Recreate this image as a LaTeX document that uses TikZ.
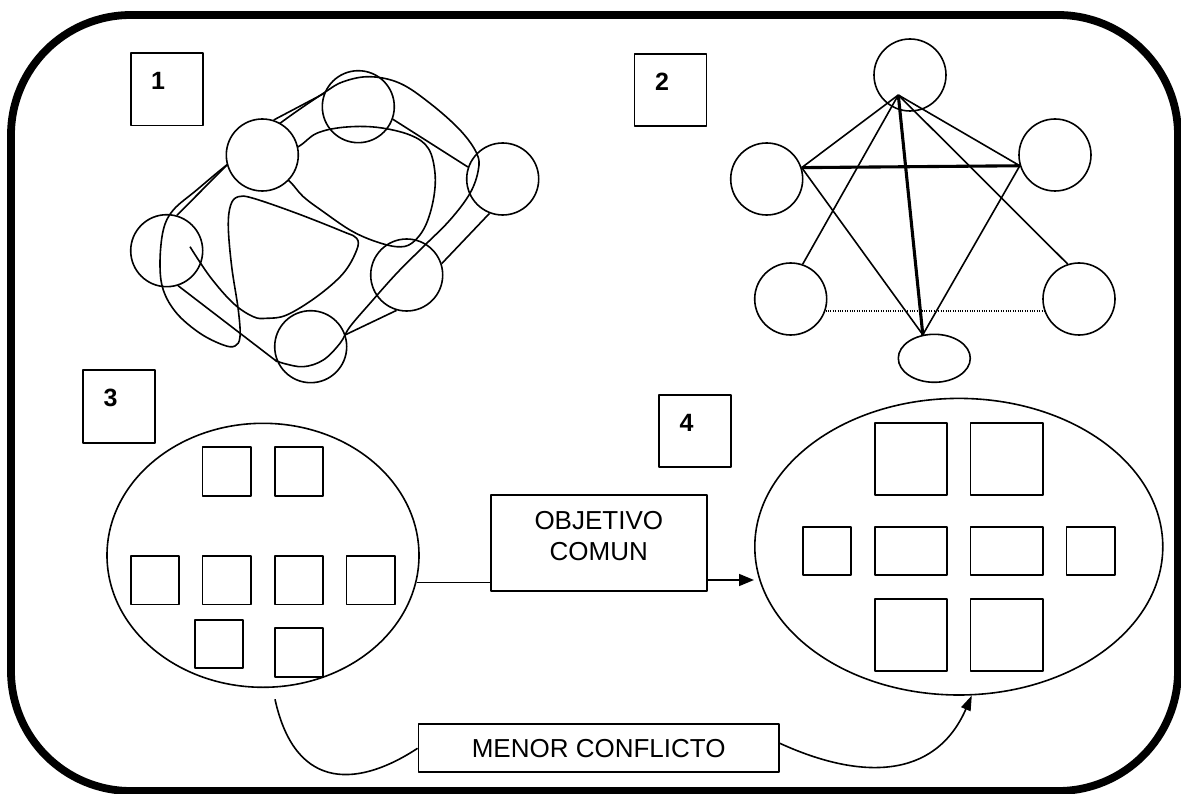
\documentclass[tikz,border=0pt]{standalone}
\usepackage{fontspec}
\setmainfont{Liberation Sans}
\usetikzlibrary{arrows.meta,shapes.geometric}
\begin{document}
\begin{tikzpicture}[x=1pt,y=-1pt,line join=round,
  ln/.style={line width=1.6pt},
  heavy/.style={line width=3.1pt},
  dotline/.style={line width=1.1pt,dash pattern=on 1pt off 1.4pt},
  circ/.style={circle,draw,line width=1.6pt,minimum size=72pt,inner sep=0pt},
  numbox/.style={rectangle,draw,line width=1.6pt,minimum width=72pt,minimum height=72.5pt,inner sep=0pt},
  numtxt/.style={font=\fontsize{25}{30}\selectfont\bfseries,inner sep=0pt},
  sq/.style={rectangle,draw,line width=1.7pt,inner sep=0pt},
  txtbox/.style={rectangle,draw,line width=1.7pt,inner sep=0pt,font=\fontsize{26}{30.8}\selectfont},
  oval/.style={ellipse,draw,line width=1.6pt,inner sep=0pt},
  tip/.style={-{Triangle[length=15pt,width=12pt]}}]
\useasboundingbox (0,0) rectangle (1181,794);
% outer frame
\draw[line width=7.8pt,rounded corners=120pt] (11,15) rectangle (1178,791);

% number boxes
\node[numbox] (b1) at (166.7,89.3) {};
\node[numtxt] (t1) at ([xshift=-8.5pt,yshift=8.5pt]b1.center) {1};
\node[numbox] (b2) at (670.5,90) {};
\node[numtxt] (t2) at ([xshift=-8.5pt,yshift=8.5pt]b2.center) {2};
\node[numbox] (b3) at (119,406.5) {};
\node[numtxt] (t3) at ([xshift=-8.5pt,yshift=8.5pt]b3.center) {3};
\node[numbox] (b4) at (695,431) {};
\node[numtxt] (t4) at ([xshift=-8.5pt,yshift=8.5pt]b4.center) {4};

% ---------- panel 1 ----------
\node[circ] (pa) at (358.3,106.7) {};
\node[circ] (pc) at (502.7,179) {};
\node[circ] (pd) at (166.7,250.7) {};
\node[circ] (pe) at (406.7,275) {};
\node[circ] (pf) at (310.7,346.7) {};
% free curves
\draw[ln] plot[smooth,tension=0.6] coordinates {
 (190,246.7) (210,276.7) (233.3,303.3) (253.3,316.7) (266.7,318.3) (286.7,315)
 (316.7,296.7) (343.3,273.3) (356.7,250) (356.7,238.3) (343.3,231.7) (296.7,213.3)
 (253.3,198.3) (238.3,196.7) (230.7,205) (228.3,226.7) (231.7,266.7) (238.3,310)
 (240,336.7) (235,346) (223.3,345) (200,333.3) (176.7,313.3) (163.3,290)
 (160,263.3) (163.3,230) (173.3,210) (196.7,190) (226.7,165) (280,123.3)
 (323.3,93.3) (343.3,81.7) (370,76.7) (400,83.3) (430,103.3) (460,130)
 (476.7,153.3) (478.3,170) (470,193.3) (450,220) (423.3,246.7) (396.7,273.3)
 (370,303.3) (350,326.7) (340,343.3) (323.3,360) (303.3,366.7) (283.3,363.3) (275,360)};
\draw[ln] plot[smooth cycle,tension=0.6] coordinates {
 (298.3,146.7) (316.7,133.3) (343.3,127.3) (376.7,127.3) (410,135) (428.3,148.3)
 (435,173.3) (433.3,200) (425,226.7) (411.7,243.3) (396.7,246.7) (373.3,240.7)
 (350,230) (323.3,211.7) (303.3,196.7) (290,181.7) (268,162)};
% straight links
\draw[ln] (pa.340) -- (pc.161);
\draw[ln] (pc.249.7) -- (pe.18.5);
\draw[ln] (pe.254) -- (pf.19);
\draw[ln] (pd.288) -- (pf.204);
\node[circ,fill=white] (pb) at (262.3,155) {};
\draw[ln] (pb.72) -- (pa.159);
\draw[ln] (pd.74) -- (pb.196);

% ---------- panel 2 ----------
\node[circ] (qa) at (910,75) {};
\node[circ] (qb) at (766.7,179) {};
\node[circ] (qc) at (1055,155) {};
\node[circ] (qd) at (790.7,299) {};
\node[circ] (qe) at (1079,299) {};
\node[oval,minimum width=72pt,minimum height=48pt] (qf) at (934.3,358.3) {};
\coordinate (qA) at (898.3,95);
\draw[ln] (qA) -- (qb.18.6);
\draw[ln] (qA) -- (qd.71.7);
\draw[ln] (qA) -- (qc.197.7);
\draw[ln] (qA) -- (qe.108.7);
\draw[heavy] (qA) -- (qf.116.5);
\draw[heavy] (qb.18.6) -- (qc.197.7);
\draw[ln] (qb.18.6) -- (qf.116.5);
\draw[ln] (qc.197.7) -- (qf.116.5);
\draw[dotline] (qd.341) -- (qe.199);

% ---------- panel 3 ----------
\node[oval,minimum width=312pt,minimum height=264pt] (e3) at (263,555.3) {};
\node[sq,minimum width=48.5pt,minimum height=48.4pt] (s31) at (226.7,471.5) {};
\node[sq,minimum width=48.5pt,minimum height=48.4pt] (s32) at (299,471.5) {};
\node[sq,minimum width=48.5pt,minimum height=48.4pt] (s33) at (155,580.2) {};
\node[sq,minimum width=48.5pt,minimum height=48.4pt] (s34) at (226.7,580.2) {};
\node[sq,minimum width=48.5pt,minimum height=48.4pt] (s35) at (299,580.2) {};
\node[sq,minimum width=48.5pt,minimum height=48.4pt] (s36) at (370.7,580.2) {};
\node[sq,minimum width=48.5pt,minimum height=48.4pt] (s37) at (219,644) {};
\node[sq,minimum width=48.5pt,minimum height=48.4pt] (s38) at (299,652.5) {};

% ---------- panel 4 ----------
\node[oval,minimum width=408pt,minimum height=296.6pt] (e4) at (958.8,546.7) {};
\node[sq,minimum width=72.5pt,minimum height=72pt] (s41) at (910.9,459.3) {};
\node[sq,minimum width=72.5pt,minimum height=72pt] (s42) at (1006.6,459.3) {};
\node[sq,minimum width=48.3pt,minimum height=48.3pt] (s43) at (827.1,550.9) {};
\node[sq,minimum width=72.5pt,minimum height=48.3pt] (s44) at (910.9,550.9) {};
\node[sq,minimum width=72.5pt,minimum height=48.3pt] (s45) at (1006.6,550.9) {};
\node[sq,minimum width=48.7pt,minimum height=48.3pt] (s46) at (1090.9,550.9) {};
\node[sq,minimum width=72.5pt,minimum height=72.3pt] (s47) at (910.9,634.9) {};
\node[sq,minimum width=72.5pt,minimum height=72.3pt] (s48) at (1006.6,634.9) {};

% ---------- middle boxes ----------
\node[txtbox,minimum width=216.3pt,minimum height=96pt] (obj) at (598.8,543.3)
  {\parbox[c][63pt][t]{210pt}{\centering OBJETIVO\\COMUN}};
\node[txtbox,minimum width=360.6pt,minimum height=48pt] (men) at (598.7,748.3) {MENOR CONFLICTO};

\draw[ln] (e3.350.85) -- (e3.350.85 -| obj.west);
\draw[ln,tip] ([yshift=-36.7pt]obj.east) -- ([yshift=-33.3pt]e4.west);

\coordinate (s1) at (275,699.3);
\draw[ln] (s1) .. controls (296,795) and (362,785) .. (men.west);
\draw[ln,-{Triangle[length=15pt,width=10pt]}] ([yshift=5pt]men.east) .. controls (860,780) and (935,780) .. (e4.-85.7);
\end{tikzpicture}
\end{document}
